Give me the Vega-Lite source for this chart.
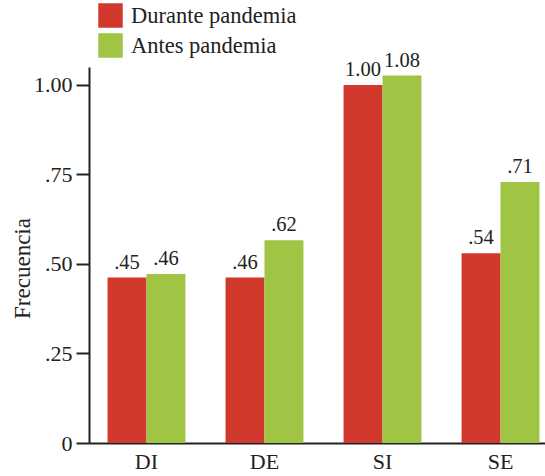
{
  "$schema": "https://vega.github.io/schema/vega-lite/v6.json",
  "width": 456,
  "height": 376,
  "autosize": {"type": "none"},
  "padding": {"left": 89, "top": 67, "right": 0, "bottom": 33},
  "background": "white",
  "config": {
    "font": "Liberation Serif",
    "view": {"stroke": null}
  },
  "data": {
    "values": [
      {"cat": "DI", "grupo": "Durante pandemia", "valor": 0.462, "etiqueta": ".45"},
      {"cat": "DI", "grupo": "Antes pandemia", "valor": 0.472, "etiqueta": ".46"},
      {"cat": "DE", "grupo": "Durante pandemia", "valor": 0.462, "etiqueta": ".46"},
      {"cat": "DE", "grupo": "Antes pandemia", "valor": 0.566, "etiqueta": ".62"},
      {"cat": "SI", "grupo": "Durante pandemia", "valor": 1.0, "etiqueta": "1.00"},
      {"cat": "SI", "grupo": "Antes pandemia", "valor": 1.026, "etiqueta": "1.08"},
      {"cat": "SE", "grupo": "Durante pandemia", "valor": 0.53, "etiqueta": ".54"},
      {"cat": "SE", "grupo": "Antes pandemia", "valor": 0.729, "etiqueta": ".71"}
    ]
  },
  "encoding": {
    "x": {
      "field": "cat",
      "type": "nominal",
      "sort": ["DI", "DE", "SI", "SE"],
      "scale": {"paddingInner": 0.34, "paddingOuter": 0.102, "align": 0.77},
      "axis": {
        "title": null,
        "ticks": false,
        "labelAngle": 0,
        "labelFont": "Liberation Serif",
        "labelFontSize": 22,
        "labelColor": "#222",
        "labelPadding": 8,
        "domainWidth": 2,
        "domainColor": "#222"
      }
    },
    "xOffset": {"field": "grupo", "type": "nominal", "sort": ["Durante pandemia", "Antes pandemia"]},
    "y": {
      "field": "valor",
      "type": "quantitative",
      "scale": {"domain": [0, 1.05], "nice": false},
      "axis": {
        "values": [0, 0.25, 0.5, 0.75, 1],
        "labelExpr": "datum.value === 0 ? '0' : (datum.value >= 1 ? format(datum.value, '.2f') : slice(format(datum.value, '.2f'), 1))",
        "grid": false,
        "tickSize": 13,
        "tickWidth": 2,
        "tickColor": "#222",
        "domainWidth": 2,
        "domainColor": "#222",
        "labelFont": "Liberation Serif",
        "labelFontSize": 22,
        "labelColor": "#222",
        "labelPadding": 4,
        "title": "Frecuencia",
        "titleFont": "Liberation Serif",
        "titleFontSize": 23,
        "titleFontWeight": "normal",
        "titleColor": "#222",
        "titleAngle": -90,
        "titleX": -67,
        "titleY": 201,
        "titleAlign": "center",
        "titleBaseline": "middle"
      }
    }
  },
  "layer": [
    {
      "mark": {"type": "bar"},
      "encoding": {
        "color": {
          "field": "grupo",
          "type": "nominal",
          "sort": ["Durante pandemia", "Antes pandemia"],
          "scale": {"domain": ["Durante pandemia", "Antes pandemia"], "range": ["#D0392B", "#A0C545"]},
          "legend": {
            "orient": "none",
            "legendX": 9,
            "legendY": -64,
            "title": null,
            "symbolType": "square",
            "symbolSize": 600,
            "symbolStrokeWidth": 0,
            "symbolOpacity": 1,
            "labelFont": "Liberation Serif",
            "labelFontSize": 22.5,
            "labelLimit": 400,
            "labelColor": "#222",
            "labelOffset": 8,
            "rowPadding": 5
          }
        }
      }
    },
    {
      "mark": {"type": "text", "baseline": "bottom", "dy": -5, "font": "Liberation Serif", "fontSize": 20.5, "color": "#222"},
      "encoding": {"text": {"field": "etiqueta"}}
    }
  ]
}
